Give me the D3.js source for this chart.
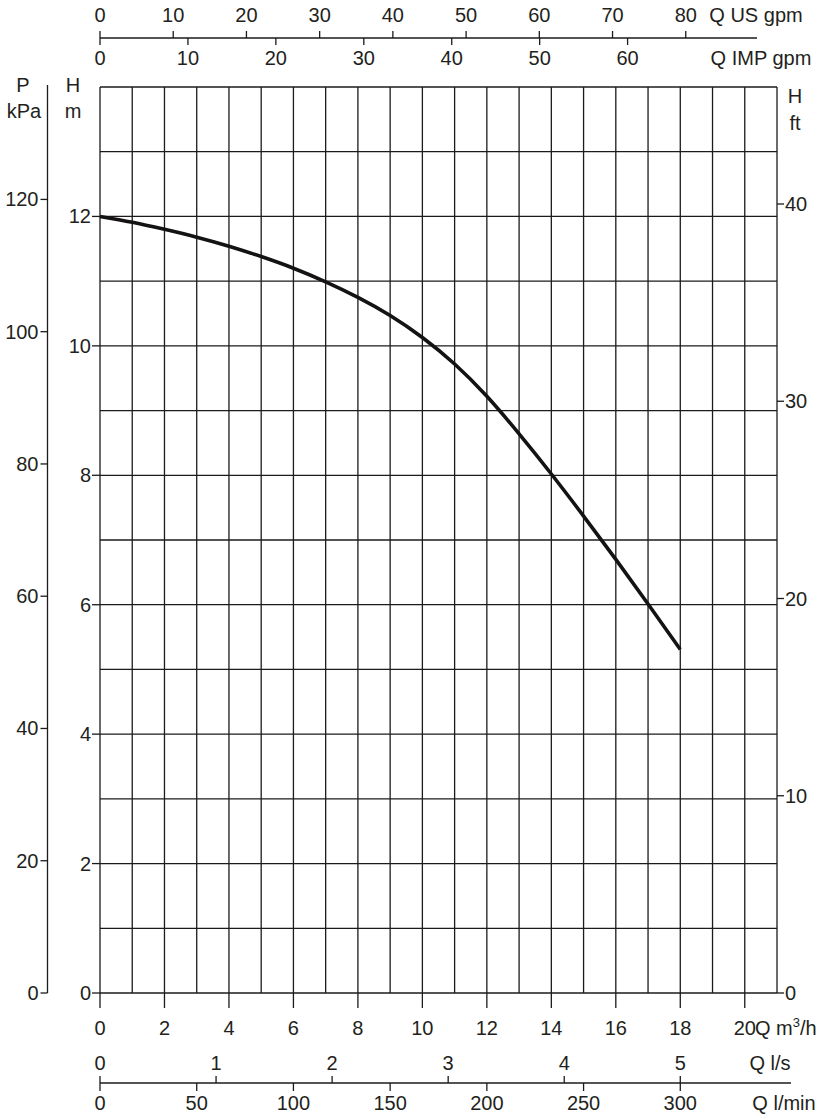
<!DOCTYPE html>
<html>
<head>
<meta charset="utf-8">
<script src="https://cdn.jsdelivr.net/npm/d3@7"></script>
<style>
html,body{margin:0;padding:0;background:#fff;}
svg text{font-family:"Liberation Sans Narrow","Arial Narrow","Liberation Sans",sans-serif;font-size:20px;fill:#231f20;}
</style>
</head>
<body>
<svg id="chart" width="823" height="1116"></svg>
<script>
// ---- data ----
const flowM3h = [0,1,2,3,4,5,6,7,8,9,10,11,12,13,14,15,16,17,18];
const headM   = [12.0,11.91,11.80,11.68,11.54,11.38,11.20,10.99,10.75,10.47,10.13,9.72,9.22,8.64,8.02,7.37,6.70,6.01,5.31];

const m3hTicks   = [0,2,4,6,8,10,12,14,16,18,20];
const usGpmTicks = [0,10,20,30,40,50,60,70,80];
const impGpmTicks= [0,10,20,30,40,50,60];
const lsTicks    = [0,1,2,3,4,5];
const lminTicks  = [0,50,100,150,200,250,300];
const kpaTicks   = [0,20,40,60,80,100,120];
const mTicks     = [0,2,4,6,8,10,12];
const ftTicks    = [0,10,20,30,40];

const qMax = 21, hMax = 14;

// ---- scales ----
const L = 100, R = 777, T = 87, B = 993;
const x = d3.scaleLinear().domain([0,qMax]).range([L,R]);
const y = d3.scaleLinear().domain([0,hMax]).range([B,T]);
const xUS  = d3.scaleLinear().domain([0,qMax*4.4029]).range([L,R]);
const xIMP = d3.scaleLinear().domain([0,qMax*3.6662]).range([L,R]);
const xLs  = d3.scaleLinear().domain([0,qMax/3.6]).range([L,R]);
const xLmin= d3.scaleLinear().domain([0,qMax*1000/60]).range([L,R]);
const yKpa = d3.scaleLinear().domain([0,137]).range([B,T]);
const yFt  = d3.scaleLinear().domain([0,hMax/0.3048]).range([B,T]);

const svg = d3.select("#chart");
const ink = "#1c1a1b";
const lw = 1.3;

// ---- grid ----
const g = svg.append("g");
g.selectAll(".v").data(d3.range(0,qMax+1)).join("line")
  .attr("x1",d=>x(d)).attr("x2",d=>x(d)).attr("y1",T).attr("y2",B)
  .attr("stroke",ink).attr("stroke-width",lw);
g.selectAll(".h").data(d3.range(0,hMax+1)).join("line")
  .attr("x1",L).attr("x2",R).attr("y1",d=>y(d)).attr("y2",d=>y(d))
  .attr("stroke",ink).attr("stroke-width",lw);

// ---- left H m axis ----
const la = svg.append("g");
la.selectAll("line").data(mTicks).join("line")
  .attr("x1",L-8).attr("x2",L).attr("y1",d=>y(d)).attr("y2",d=>y(d))
  .attr("stroke",ink).attr("stroke-width",lw);
la.selectAll("text").data(mTicks).join("text")
  .attr("x",L-9).attr("y",d=>y(d)+7).attr("text-anchor","end").text(d=>d);
svg.append("text").attr("x",73).attr("y",92).attr("text-anchor","middle").text("H");
svg.append("text").attr("x",73).attr("y",118).attr("text-anchor","middle").text("m");

// ---- kPa axis ----
const ka = svg.append("g");
const kx = 47.5;
ka.append("line").attr("x1",kx).attr("x2",kx).attr("y1",85).attr("y2",B)
  .attr("stroke",ink).attr("stroke-width",lw);
ka.selectAll(".t").data(kpaTicks).join("line")
  .attr("x1",kx-7).attr("x2",kx).attr("y1",d=>yKpa(d)).attr("y2",d=>yKpa(d))
  .attr("stroke",ink).attr("stroke-width",lw);
ka.selectAll("text").data(kpaTicks).join("text")
  .attr("x",kx-9).attr("y",d=>yKpa(d)+7).attr("text-anchor","end").text(d=>d);
svg.append("text").attr("x",23).attr("y",92).attr("text-anchor","middle").text("P");
svg.append("text").attr("x",24).attr("y",118).attr("text-anchor","middle").text("kPa");

// ---- right ft axis ----
const ra = svg.append("g");
ra.selectAll("line").data(ftTicks).join("line")
  .attr("x1",R).attr("x2",R+7).attr("y1",d=>yFt(d)).attr("y2",d=>yFt(d))
  .attr("stroke",ink).attr("stroke-width",lw);
ra.selectAll("text").data(ftTicks).join("text")
  .attr("x",R+8).attr("y",d=>yFt(d)+7).attr("text-anchor","start").text(d=>d);
svg.append("text").attr("x",795).attr("y",103).attr("text-anchor","middle").text("H");
svg.append("text").attr("x",795).attr("y",130).attr("text-anchor","middle").text("ft");

// ---- bottom m3/h ----
const ba = svg.append("g");
ba.selectAll("line").data(m3hTicks).join("line")
  .attr("x1",d=>x(d)).attr("x2",d=>x(d)).attr("y1",B).attr("y2",B+15)
  .attr("stroke",ink).attr("stroke-width",lw);
ba.selectAll("text").data(m3hTicks).join("text")
  .attr("x",d=>x(d)).attr("y",1035).attr("text-anchor","middle").text(d=>d);
const mt = svg.append("text").attr("x",755).attr("y",1035);
mt.append("tspan").text("Q m");
mt.append("tspan").attr("dy",-8).style("font-size","13px").text("3");
mt.append("tspan").attr("dy",8).text("/h");

// ---- bottom l/s & l/min ----
const by = 1083;
svg.append("line").attr("x1",L).attr("x2",791).attr("y1",by).attr("y2",by)
  .attr("stroke",ink).attr("stroke-width",lw);
const lsA = svg.append("g");
lsA.selectAll("line").data(lsTicks).join("line")
  .attr("x1",d=>xLs(d)).attr("x2",d=>xLs(d)).attr("y1",by-7).attr("y2",by)
  .attr("stroke",ink).attr("stroke-width",lw);
lsA.selectAll("text").data(lsTicks).join("text")
  .attr("x",d=>xLs(d)).attr("y",1070).attr("text-anchor","middle").text(d=>d);
svg.append("text").attr("x",770).attr("y",1070).attr("text-anchor","middle").text("Q l/s");
const lmA = svg.append("g");
lmA.selectAll("line").data(lminTicks).join("line")
  .attr("x1",d=>xLmin(d)).attr("x2",d=>xLmin(d)).attr("y1",by).attr("y2",by+8)
  .attr("stroke",ink).attr("stroke-width",lw);
lmA.selectAll("text").data(lminTicks).join("text")
  .attr("x",d=>xLmin(d)).attr("y",1110).attr("text-anchor","middle").text(d=>d);
svg.append("text").attr("x",784).attr("y",1110).attr("text-anchor","middle").text("Q l/min");

// ---- top US gpm & IMP gpm ----
const ty = 38;
svg.append("line").attr("x1",L).attr("x2",757).attr("y1",ty).attr("y2",ty)
  .attr("stroke",ink).attr("stroke-width",lw);
const usA = svg.append("g");
usA.selectAll("line").data(usGpmTicks).join("line")
  .attr("x1",d=>xUS(d)).attr("x2",d=>xUS(d)).attr("y1",ty-7).attr("y2",ty)
  .attr("stroke",ink).attr("stroke-width",lw);
usA.selectAll("text").data(usGpmTicks).join("text")
  .attr("x",d=>xUS(d)).attr("y",22).attr("text-anchor","middle").text(d=>d);
svg.append("text").attr("x",756).attr("y",22).attr("text-anchor","middle").text("Q US gpm");
const impA = svg.append("g");
impA.selectAll("line").data(impGpmTicks).join("line")
  .attr("x1",d=>xIMP(d)).attr("x2",d=>xIMP(d)).attr("y1",ty).attr("y2",ty+7)
  .attr("stroke",ink).attr("stroke-width",lw);
impA.selectAll("text").data(impGpmTicks).join("text")
  .attr("x",d=>xIMP(d)).attr("y",65).attr("text-anchor","middle").text(d=>d);
svg.append("text").attr("x",761).attr("y",65).attr("text-anchor","middle").text("Q IMP gpm");

// ---- curve ----
const line = d3.line().x((d,i)=>x(flowM3h[i])).y(d=>y(d)).curve(d3.curveNatural);
svg.append("path").datum(headM).attr("d",line)
  .attr("fill","none").attr("stroke","#141213").attr("stroke-width",3.6)
  .attr("stroke-linecap","butt");
</script>
</body>
</html>
